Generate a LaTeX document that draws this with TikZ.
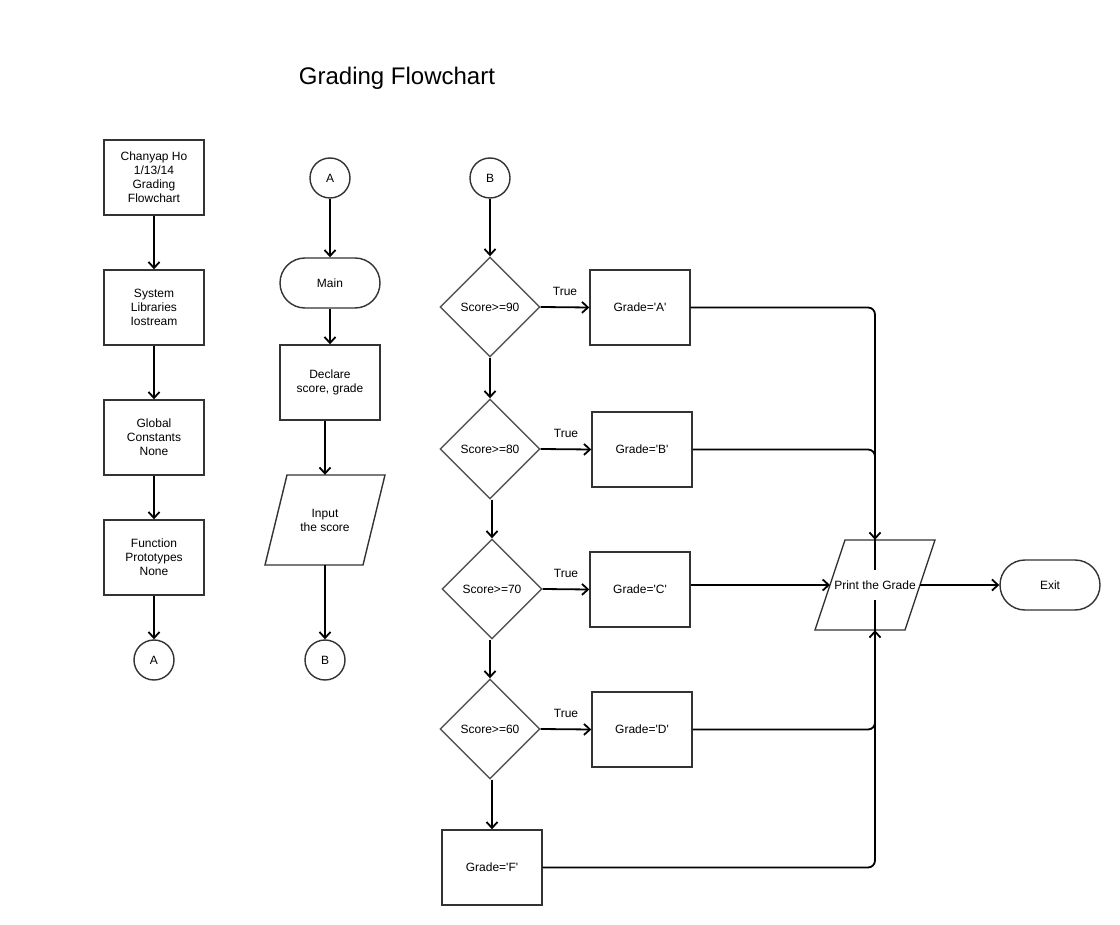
\documentclass[tikz,border=0pt]{standalone}
\usepackage{fontspec}
\setmainfont{Liberation Sans}[Ligatures=TeXOff]
\usetikzlibrary{shapes.geometric,arrows.meta}
\definecolor{linec}{HTML}{333333}
\definecolor{dgray}{HTML}{555555}
\begin{document}
\begin{tikzpicture}[x=1pt,y=-1pt,
  txt/.style={font=\fontsize{12}{14}\selectfont, align=center},
  box/.style={txt, draw=linec, line width=1.4pt, minimum width=100pt, minimum height=75pt, inner sep=2pt},
  term/.style={txt, draw=linec, line width=1.4pt, minimum width=100pt, minimum height=50pt, rounded corners=25pt},
  conn/.style={draw=linec, line width=1.4pt, inner sep=0pt, minimum size=40pt, circle, txt},
  dia/.style={txt, draw=dgray, line width=1.4pt, diamond, aspect=1, minimum width=100pt, minimum height=100pt, inner sep=0pt},
  para/.style={txt, minimum width=120pt, minimum height=90pt, inner sep=0pt},
  paraline/.style={draw=linec, line width=1.4pt},
  arr/.style={draw=black, line width=1.8pt, -{Straight Barb[length=6pt,width=11pt]}},
  ln/.style={draw=black, line width=1.8pt},
  lbl/.style={font=\fontsize{12}{14}\selectfont}]
\useasboundingbox[fill=white] (0,0) rectangle (1120,925);

\node[font=\fontsize{24}{28}\selectfont] (title) at (397,78) {Grading Flowchart};

% column 1
\node[box] (b1) at (154,177.5) {Chanyap Ho\\1/13/14\\Grading\\Flowchart};
\node[box] (b2) at (154,307.5) {System\\Libraries\\Iostream};
\node[box] (b3) at (154,437.5) {Global\\Constants\\None};
\node[box] (b4) at (154,557.5) {Function\\Prototypes\\None};
\node[conn] (ca1) at (154,660) {A};
\draw[arr] (b1.south) -- (b2.north);
\draw[arr] (b2.south) -- (b3.north);
\draw[arr] (b3.south) -- (b4.north);
\draw[arr] (b4.south) -- (ca1.north);

% column 2
\node[conn] (ca2) at (330,178) {A};
\node[term] (main) at (330,283) {Main};
\node[box] (decl) at (330,382.5) {Declare\\score, grade};
\node[para] (inp) at (325,520) {Input\\the score};
\draw[paraline] ([shift={(-38,-45)}]inp.center) -- ([shift={(60,-45)}]inp.center)
  -- ([shift={(38,45)}]inp.center) -- ([shift={(-60,45)}]inp.center) -- cycle;
\node[conn] (cb1) at (325,660) {B};
\draw[arr] (ca2.south) -- (main.north);
\draw[arr] (main.south) -- (decl.north);
\draw[arr] (inp.north |- decl.south) -- (inp.north);
\draw[arr] (inp.south) -- (cb1.north);

% column 3
\node[conn] (cb2) at (490,178) {B};
\node[dia] (d1) at (490,307) {Score>=90};
\node[dia] (d2) at (490,449) {Score>=80};
\node[dia] (d3) at (492,589) {Score>=70};
\node[dia] (d4) at (490,729) {Score>=60};
\node[box] (ga) at (640,307.5) {Grade='A'};
\node[box] (gb) at (642,449.5) {Grade='B'};
\node[box] (gc) at (640,589.5) {Grade='C'};
\node[box] (gd) at (642,729.5) {Grade='D'};
\node[box] (gf) at (492,867.5) {Grade='F'};
\node[para] (pr) at (875,585) {Print the Grade};
\draw[paraline] ([shift={(-30,-45)}]pr.center) -- ([shift={(60,-45)}]pr.center)
  -- ([shift={(30,45)}]pr.center) -- ([shift={(-60,45)}]pr.center) -- cycle;
\coordinate (prl) at ([shift={(-45,0)}]pr.center);
\coordinate (prr) at ([shift={(45,0)}]pr.center);
\node[term] (exit) at (1050,585) {Exit};

\draw[arr] (cb2.south) -- (d1.north);
\draw[arr] (d1.south) -- (d2.north);
\draw[arr] (d3.north |- d2.south) -- (d3.north);
\draw[arr] (d4.north |- d3.south) -- (d4.north);
\draw[arr] (gf.north |- d4.south) -- (gf.north);

\draw[arr] (d1.east) -- node[lbl, above, yshift=7pt] {True} (ga.west);
\draw[arr] (d2.east) -- node[lbl, above, yshift=7pt] {True} (gb.west);
\draw[arr] (d3.east) -- node[lbl, above, yshift=7pt] {True} (gc.west);
\draw[arr] (d4.east) -- node[lbl, above, yshift=7pt] {True} (gd.west);

\draw[arr, rounded corners=7pt] (ga.east) -- (ga.east -| pr.north) -- (pr.north);
\draw[ln, rounded corners=7pt] (gb.east) -- (gb.east -| pr.north) -- ([yshift=-30pt]pr.north);
\draw[arr] (gc.east |- prl) -- (prl);
\draw[arr, rounded corners=7pt] (gd.east) -- (gd.east -| pr.south) -- (pr.south);
\draw[ln, rounded corners=7pt] (gf.east) -- (gf.east -| pr.south) -- ([yshift=30pt]pr.south);
\draw[arr] (prr) -- (exit.west);
\end{tikzpicture}
\end{document}
